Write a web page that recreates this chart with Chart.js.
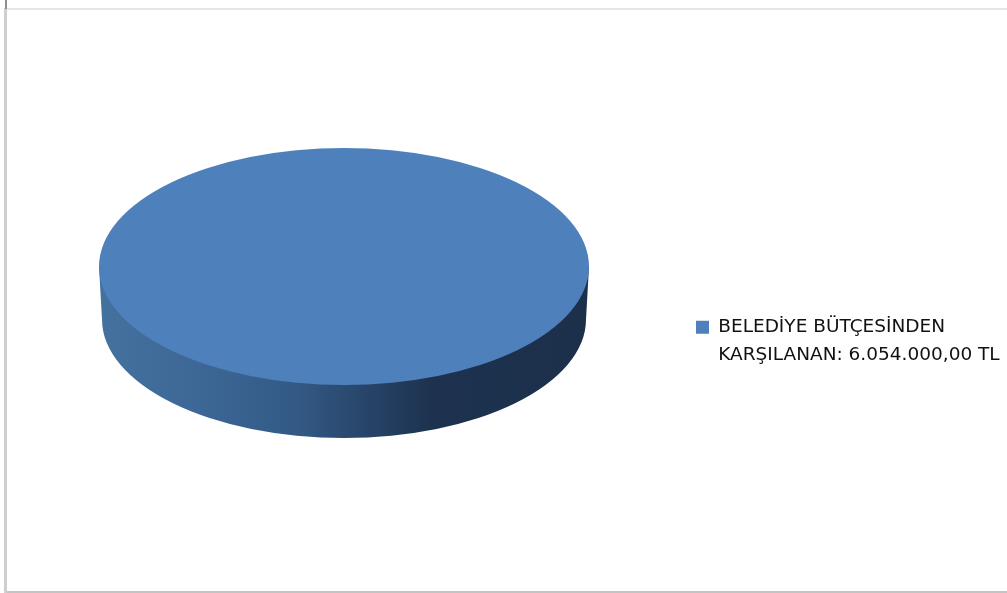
<!DOCTYPE html>
<html lang="tr">
<head>
<meta charset="utf-8">
<style>
html,body{margin:0;padding:0;background:#fff;overflow:hidden}
canvas{display:block;filter:blur(0.7px)}
</style>
<script src="https://cdn.jsdelivr.net/npm/chart.js@4"></script>
</head>
<body>
<canvas id="c" width="1007" height="593"></canvas>
<script>
const categories = [["BELEDİYE BÜTÇESİNDEN", "KARŞILANAN: 6.054.000,00 TL"]];
const seriesValues = [6054000];
const sliceColors = ["#4e80bc"];

const TILT = 118.5 / 245;   // vertical squash of the pie disc
const DEPTH = 53;           // thickness of the disc

const frame = {
  id: "frame",
  beforeDraw(chart) {
    const c = chart.ctx;
    c.save();
    c.fillStyle = "#fff";
    c.fillRect(0, 0, chart.width, chart.height);
    c.fillStyle = "#cfcfcf"; c.fillRect(4, 8, 3, 585);
    c.fillStyle = "#8f8f8f"; c.fillRect(5, 0, 2, 9);
    c.fillStyle = "#e6e6e6"; c.fillRect(7, 8, 1000, 2);
    c.fillStyle = "#c4c4c4"; c.fillRect(7, 591, 1000, 2);
    c.restore();
  }
};

const placeLegend = {
  id: "placeLegend",
  afterLayout(chart) {
    const l = chart.legend;
    const w = l.width, h = l.height;
    l.left = 686; l.right = 686 + w;
    l.top = 308; l.bottom = 308 + h;
  }
};

const disc = {
  id: "disc",
  beforeDatasetsDraw(chart) {
    const c = chart.ctx;
    const arc = chart.getDatasetMeta(0).data[0];
    const { x, y, outerRadius: r } = arc;
    const ry = r * TILT, rBottom = r - 3;
    const g = c.createLinearGradient(x - r, 0, x + r, 0);
    g.addColorStop(0, "#44729f");
    g.addColorStop(0.2, "#3d6796");
    g.addColorStop(0.4, "#335a86");
    g.addColorStop(0.5, "#2b4b71");
    g.addColorStop(0.6, "#233d5e");
    g.addColorStop(0.68, "#1d324e");
    g.addColorStop(1, "#1c304b");
    c.save();
    c.fillStyle = g;
    c.beginPath();
    c.moveTo(x - r, y);
    c.lineTo(x - rBottom, y + DEPTH);
    c.ellipse(x, y + DEPTH, rBottom, ry, 0, Math.PI, 0, true);
    c.lineTo(x + r, y);
    c.closePath();
    c.fill();
    c.restore();
    c.save();
    c.translate(0, y);
    c.scale(1, TILT);
    c.translate(0, -y);
  },
  afterDatasetsDraw(chart) {
    chart.ctx.restore();
  }
};

new Chart(document.getElementById("c"), {
  type: "pie",
  data: {
    labels: categories,
    datasets: [{ data: seriesValues, backgroundColor: sliceColors, borderWidth: 0 }]
  },
  options: {
    responsive: false,
    animation: false,
    layout: { padding: { left: 99, right: 418, top: 0, bottom: 60 } },
    plugins: {
      tooltip: { enabled: false },
      legend: {
        position: "chartArea",
        align: "start",
        labels: {
          boxWidth: 13,
          boxHeight: 13,
          padding: 10,
          color: "#111",
          font: { family: "'DejaVu Sans'", size: 18.5, weight: "normal", lineHeight: 1.51 }
        }
      }
    }
  },
  plugins: [frame, placeLegend, disc]
});
</script>
</body>
</html>
